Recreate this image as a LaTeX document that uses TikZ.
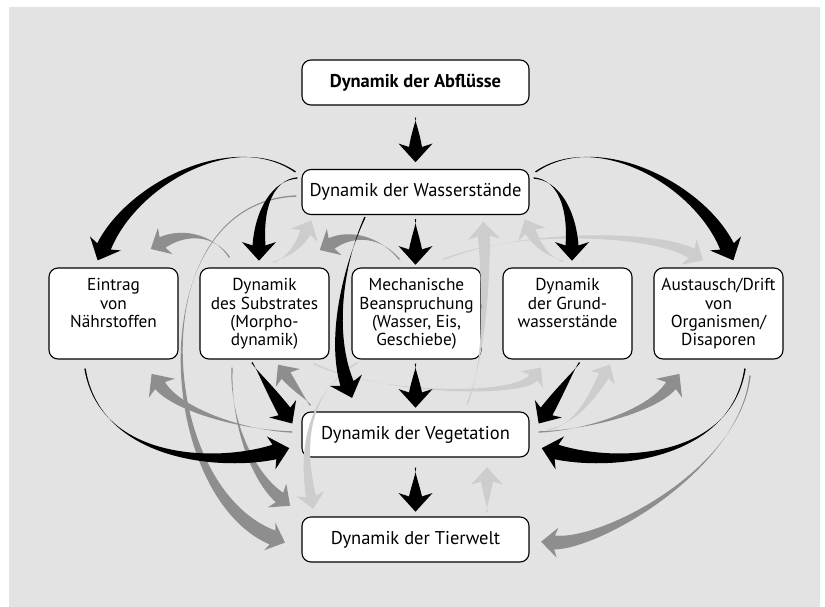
\documentclass[tikz,border=0pt]{standalone}
\usepackage{fontspec}
\setmainfont{PT Sans}
\usetikzlibrary{calc}
\usetikzlibrary{positioning}

\definecolor{bggray}{HTML}{E3E3E3}
\definecolor{midgray}{HTML}{8E8E8E}
\definecolor{palegray}{HTML}{CDCDCD}

% tapered flow arrow: [colour]{start}{control 1}{control 2}{head base}{half shaft}{half head}
\newcommand{\flow}[7][black]{%
\coordinate (fS) at (#2);
\coordinate (fA) at (#3);
\coordinate (fC) at (#4);
\coordinate (fB) at (#5);
\pgfmathsetmacro\flowD{0.6*#6}
\pgfmathsetmacro\flowL{0.9*#7}
\pgfmathsetmacro\flowK{0.2*#7}
\coordinate (fK) at ($(fB)!\flowK pt!(fC)$);
\fill[#1] ($(fS)!0.7pt!-90:(fA)$) .. controls (fA) and ($(fC)!\flowD pt!90:(fB)$) .. ($(fB)!#6pt!-90:(fC)$)
  -- ($(fK)!#7pt!-90:(fC)$) -- ($(fB)!-\flowL pt!(fC)$) -- ($(fK)!#7pt!90:(fC)$)
  -- ($(fB)!#6pt!90:(fC)$) .. controls ($(fC)!\flowD pt!-90:(fB)$) and (fA) .. ($(fS)!0.7pt!90:(fA)$) -- cycle;
}

\begin{document}
\begin{tikzpicture}[x=1pt,y=-1pt,
  box/.style={draw,rounded corners=9pt,fill=white,line width=1.1pt,minimum width=227pt,minimum height=45pt,inner sep=0pt,font=\fontsize{18.5}{20}\selectfont},
  sbox/.style={draw,rounded corners=9pt,fill=white,line width=1.1pt,minimum width=129pt,minimum height=91pt,inner sep=0pt},
  lbl/.style={align=center,inner sep=0pt,font=\fontsize{17.3}{18.3}\selectfont}]
\useasboundingbox (0,0) rectangle (825,607);
\fill[bggray] (9,7) rectangle (820,607);

% boxes
\node[box,font=\fontsize{18.5}{20}\selectfont\bfseries] (abfl) at (415.5,82.5) {Dynamik der Abflüsse};
\node[box] (wst) at (415.5,192) {Dynamik der Wasserstände};
\node[sbox] (ein) at (113.5,313.5) {};
\node[sbox] (sub) at (264.5,313.5) {};
\node[sbox] (mech) at (416.5,313.5) {};
\node[sbox] (grund) at (567.5,313.5) {};
\node[sbox] (aus) at (718.5,313.5) {};
\node[box] (veg) at (415.5,434.5) {Dynamik der Vegetation};
\node[box] (tier) at (415.5,539.5) {Dynamik der Tierwelt};

\node[lbl,below=11pt of ein.north] (einT) {Eintrag\\von\\Nährstoffen};
\node[lbl,below=11pt of sub.north] (subT) {Dynamik\\des Substrates\\(Morpho-\\dynamik)};
\node[lbl,below=11pt of mech.north] (mechT) {Mechanische\\Beanspruchung\\(Wasser, Eis,\\Geschiebe)};
\node[lbl,below=11pt of grund.north] (grundT) {Dynamik\\der Grund-\\wasserstände};
\node[lbl,below=11pt of aus.north] (ausT) {Austausch/Drift\\von\\Organismen/\\Disaporen};

% light grey flows
\flow[palegray]{$(tier.north)+(71.5,-4)$}{487,505}{487,495}{$(veg.south)+(71.5,24)$}{6}{16}
\flow[palegray]{$(sub.north)+(8.5,-5)$}{285,258}{297,250}{$(wst.south west)+(4,17.5)$}{5.5}{15}
\flow[palegray]{$(grund.north)+(-4.5,-6)$}{551,257}{539,249}{$(wst.south east)+(1,16.5)$}{5.5}{15}
\flow[palegray]{$(mech.north east)+(-38,-8)$}{520,228}{658,233}{$(aus.north west)+(38,-14)$}{5.5}{15}
\flow[palegray]{$(sub.south east)+(-16,4)$}{380,395}{519,397}{$(grund.south west)+(31,18)$}{5}{14}
\flow[palegray]{$(veg.east)+(18,-4.5)$}{575,425}{592,397}{$(grund.south)+(36.5,16)$}{5.5}{14}
\flow[palegray]{$(veg.north)+(51.5,-7)$}{485,360}{486,290}{$(wst.south)+(68.5,21)$}{6}{16}
\flow[palegray]{$(mech.south west)+(6,3)$}{305,395}{302,450}{$(tier.north west)+(9.5,-20)$}{5}{14}

% grey flows
\flow[midgray]{$(sub.north west)+(30,-10)$}{215,235}{185,230}{$(ein.north east)+(-16,-25)$}{6}{15}
\flow[midgray]{$(mech.north west)+(48,-8)$}{380,236}{352,232}{$(sub.north east)+(2,-24)$}{6}{15}
\flow[midgray]{$(veg.west)+(-9,-2.5)$}{240,430}{177,409}{$(ein.south east)+(-18.5,26)$}{6}{16}
\flow[midgray]{$(veg.north west)+(9,-6)$}{305,398}{297.5,391}{$(sub.south east)+(-43.5,16)$}{5.5}{15}
\flow[midgray]{$(sub.south)+(-32.5,8)$}{230,420}{252,476}{$(tier.north west)+(-22,-19)$}{6}{15}
\flow[midgray]{$(wst.west)+(-5,4)$}{140,202}{155,490}{$(tier.west)+(-29,-2)$}{7.5}{15}
\flow[midgray]{$(veg.east)+(9,-2.5)$}{591,430}{654,409}{$(aus.south west)+(17.5,26)$}{6}{16}
\flow[midgray]{$(aus.south)+(31.5,16)$}{740,470}{600,545}{$(tier.east)+(25,3)$}{7}{15}

% black flows
\flow{$(abfl.south)+(0,12)$}{415.5,122}{415.5,132}{$(wst.north)+(0,-22)$}{6.5}{17}
\flow{$(wst.south)+(0,4)$}{415.5,226}{415.5,236}{$(mech.north)+(-1,-18)$}{6.5}{17}
\flow{$(mech.south)+(-1,4)$}{415.5,370}{415.5,380}{$(veg.north)+(0,-19)$}{6.5}{17}
\flow{$(veg.south)+(0,10)$}{415.5,475}{415.5,485}{$(tier.north)+(0,-20)$}{6.5}{17}
\flow{$(wst.north west)+(-6,3)$}{235,130}{133,183}{$(ein.north)+(-9.5,-21)$}{7.5}{17}
\flow{$(wst.north west)+(-4,9)$}{272,180}{259,210}{$(sub.north)+(-5.5,-22)$}{6.5}{17}
\flow{$(wst.north east)+(4,9)$}{559,180}{572,210}{$(grund.north)+(4.5,-22)$}{6.5}{17}
\flow{$(wst.north east)+(6,3)$}{596,130}{698,183}{$(aus.north)+(8.5,-21)$}{7.5}{17}
\flow{$(wst.south)+(-50.5,2)$}{343,265}{330,335}{$(veg.north)+(-68.5,-28)$}{7}{17}
\flow{$(sub.south)+(-12.5,3)$}{258,372}{268.5,387}{$(veg.north west)+(-17,0)$}{7}{16}
\flow{$(ein.south)+(-28.5,9)$}{100,460}{217,467}{$(veg.west)+(-27,17.5)$}{7.5}{17}
\flow{$(aus.south)+(26.5,9)$}{731,460}{614,467}{$(veg.east)+(27,17.5)$}{7.5}{17}
\flow{$(grund.south)+(12,3)$}{573,372}{562.5,387}{$(veg.north east)+(17,0)$}{7}{16}

\end{tikzpicture}
\end{document}
